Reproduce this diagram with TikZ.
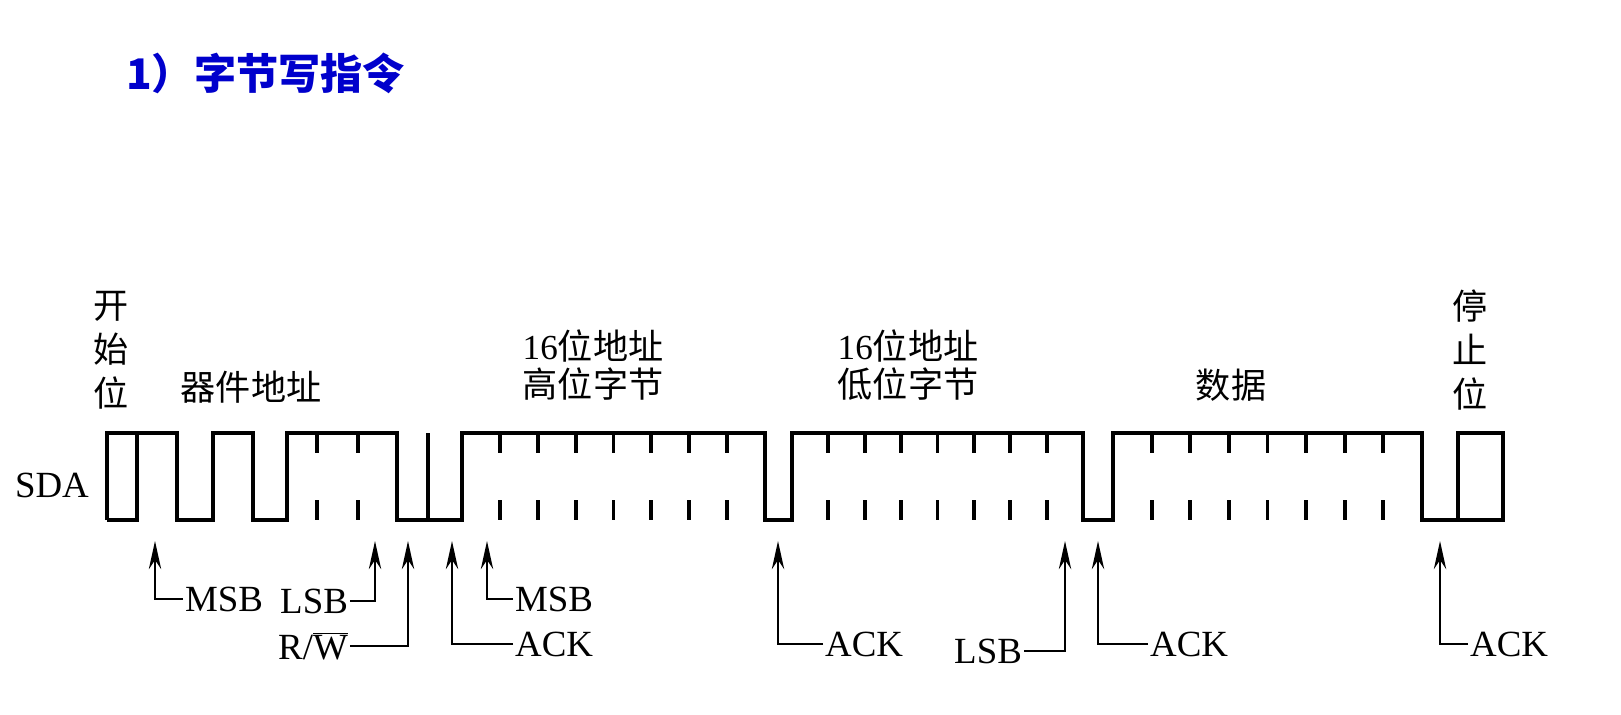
\documentclass[tikz,border=0pt]{standalone}
\usepackage{fontspec}
\setmainfont{Liberation Serif}
\newfontfamily\cjk{Noto Sans CJK SC}
\newfontfamily\latn{Liberation Serif}
\usetikzlibrary{arrows.meta}
\begin{document}
\begin{tikzpicture}[x=0.02cm,y=-0.02cm,
  wave/.style={line width=2.6pt,line join=miter},
  tick/.style={line width=2.2pt},
  ptr/.style={line width=1.6pt,-{Stealth[length=16pt,width=7pt]}},
  lbl/.style={font=\fontsize{21}{22}\selectfont,inner sep=1pt},
  cj/.style={font=\cjk\fontsize{20}{22}\selectfont,inner sep=0pt},
  cjv/.style={font=\cjk\fontsize{20}{25}\selectfont,align=center,inner sep=0pt}]
\useasboundingbox (0,0) rectangle (1621,714);
\fill[white] (0,0) rectangle (1621,714);
\node[font=\cjk\bfseries\fontsize{24}{26}\selectfont,text=blue!80!black,anchor=west] (title) at (120,73) {1）字节写指令};
% waveform
\draw[wave] (107,520) -- (107,433) -- (137,433) -- (137,520) -- (107,520)
  (137,433) -- (177,433) -- (177,520) -- (213,520) -- (213,433) -- (253,433) -- (253,520)
  -- (287,520) -- (287,433) -- (397,433) -- (397,520) -- (462,520) -- (462,433) -- (765,433)
  -- (765,520) -- (792,520) -- (792,433) -- (1083,433) -- (1083,520) -- (1113,520) -- (1113,433)
  -- (1422,433) -- (1422,520) -- (1458,520) -- (1458,433) -- (1503,433) -- (1503,520) -- (1458,520);
\draw[tick] (428,520) -- (428,433);
\foreach \x in {317,358}{\draw[tick] (\x,433) -- (\x,453) (\x,500) -- (\x,520);}
\foreach \i in {1,...,7}{
  \pgfmathsetmacro\a{462+\i*303/8}\draw[tick] (\a,433) -- (\a,453) (\a,500) -- (\a,520);
  \pgfmathsetmacro\b{792+\i*291/8}\draw[tick] (\b,433) -- (\b,453) (\b,500) -- (\b,520);
  \pgfmathsetmacro\c{1113+\i*309/8}\draw[tick] (\c,433) -- (\c,453) (\c,500) -- (\c,520);}
% labels above
\node[lbl] (sda) at (52,485) {SDA};
\node[cjv] (start) at (111,350) {开\\始\\位};
\node[cj] (dev) at (251,387) {器件地址};
\node[cjv,font=\cjk\fontsize{20}{22}\selectfont] (hi) at (593,365) {{\latn 16}位地址\\高位字节};
\node[cjv,font=\cjk\fontsize{20}{22}\selectfont] (lo) at (908,365) {{\latn 16}位地址\\低位字节};
\node[cj] (data) at (1231,385) {数据};
\node[cjv] (stop) at (1470,350) {停\\止\\位};
% pointers
\node[lbl,anchor=west] (msb1) at (183,599) {MSB};
\node[lbl,anchor=east] (lsb1) at (350,601) {LSB};
\node[lbl,anchor=east] (rw) at (350,646) {R/$\overline{\mathrm{W}}$};
\node[lbl,anchor=west] (ack1) at (513,644) {ACK};
\node[lbl,anchor=west] (msb2) at (513,599) {MSB};
\node[lbl,anchor=west] (ack2) at (823,644) {ACK};
\node[lbl,anchor=east] (lsb2) at (1024,651) {LSB};
\node[lbl,anchor=west] (ack3) at (1148,644) {ACK};
\node[lbl,anchor=west] (ack4) at (1468,644) {ACK};
\foreach \n/\x in {p1/155,p2/375,p3/408,p4/452,p5/487,p6/778,p7/1065,p8/1098,p9/1440}
  \coordinate (\n) at (\x,541);
\draw[ptr] (msb1.west) -| (p1);
\draw[ptr] (lsb1.east) -| (p2);
\draw[ptr] (rw.east) -| (p3);
\draw[ptr] (ack1.west) -| (p4);
\draw[ptr] (msb2.west) -| (p5);
\draw[ptr] (ack2.west) -| (p6);
\draw[ptr] (lsb2.east) -| (p7);
\draw[ptr] (ack3.west) -| (p8);
\draw[ptr] (ack4.west) -| (p9);
\end{tikzpicture}
\end{document}
